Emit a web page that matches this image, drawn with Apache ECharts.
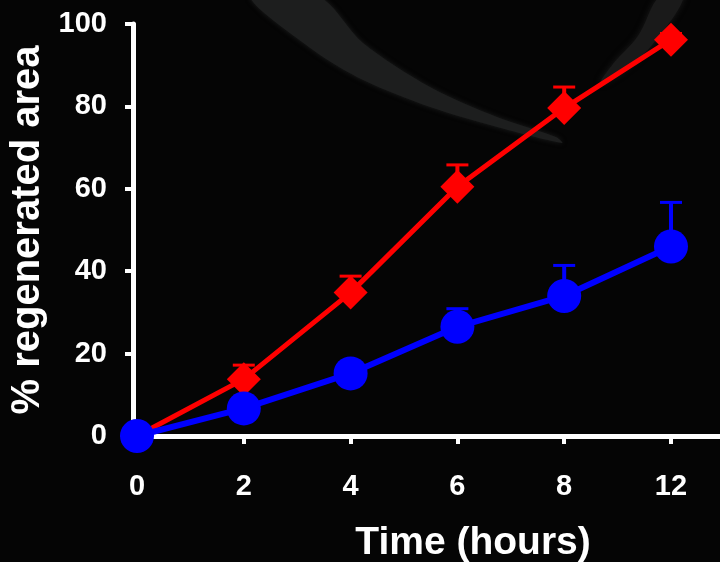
<!DOCTYPE html>
<html>
<head>
<meta charset="utf-8">
<script src="https://cdn.jsdelivr.net/npm/echarts@6/dist/echarts.min.js"></script>
<style>
  html, body { margin: 0; padding: 0; background: #050505; }
  #chart { width: 720px; height: 562px; }
</style>
</head>
<body>
<div id="chart"></div>
<script>
// time points (hours), drawn evenly spaced like the original
var hours = ['0', '2', '4', '6', '8', '12'];
var yTicks = [0, 20, 40, 60, 80, 100];

// red diamonds
var redMean = [0, 13.8, 34.8, 60.5, 79.6, 96.2];
var redErr = [0, 3.4, 4.0, 5.3, 5.1, 1.5];

// blue circles
var blueMean = [0, 6.7, 15.2, 26.5, 34.0, 46.0];
var blueErr = [0, 1.5, 2.0, 4.4, 7.4, 10.7];

var FONT = "'Liberation Sans', Arial, sans-serif";

function pairs(arr) {
    return arr.map(function (v, i) { return [i, v]; });
}
function errData(mean, err) {
    return mean.map(function (v, i) { return [i, v, err[i]]; });
}

// error bar (upper only) with a cap
function errorBar(color) {
    return function (params, api) {
        var i = api.value(0);
        var m = api.value(1);
        var e = api.value(2);
        if (!e) return;
        var p0 = api.coord([i, m]);
        var p1 = api.coord([i, m + e]);
        var half = 11;
        return {
            type: 'group',
            children: [
                {
                    type: 'line',
                    shape: { x1: p0[0], y1: p0[1], x2: p1[0], y2: p1[1] },
                    style: { stroke: color, lineWidth: 4 }
                },
                {
                    type: 'line',
                    shape: { x1: p1[0] - half, y1: p1[1], x2: p1[0] + half, y2: p1[1] },
                    style: { stroke: color, lineWidth: 3 }
                }
            ]
        };
    };
}

var chart = echarts.init(document.getElementById('chart'));

var option = {
    backgroundColor: '#050505',
    animation: false,
    // faint grey swooshes of the photo background
    graphic: [
        {
            type: 'polygon',
            z: -10,
            shape: {
                smooth: 0.3,
                points: [[250, -4], [318, -4], [363, 43], [430, 87], [497, 117], [556, 137], [562, 143],
                         [497, 127], [430, 107], [363, 80], [313, 50]]
            },
            style: { fill: '#1d1e1e', shadowBlur: 5, shadowColor: '#1d1e1e' }
        },
        {
            type: 'polygon',
            z: -10,
            shape: {
                smooth: 0.35,
                points: [[660, -4], [684, -4], [652, 45], [622, 72], [600, 84], [613, 64], [638, 36]]
            },
            style: { fill: '#1a1a1a', shadowBlur: 6, shadowColor: '#1a1a1a' }
        }
    ],
    grid: {
        left: 133,
        right: 0,
        top: 24,
        bottom: 126,
        containLabel: false,
        outerBoundsMode: 'none'
    },
    xAxis: {
        type: 'value',
        min: -0.0375,
        max: 5.459,
        name: 'Time (hours)',
        nameLocation: 'middle',
        nameGap: 88,
        nameTextStyle: {
            color: '#ffffff',
            fontFamily: FONT,
            fontWeight: 'bold',
            fontSize: 39,
            padding: [0, 0, 0, 93]
        },
        axisLine: { show: true, lineStyle: { color: '#ffffff', width: 5 } },
        axisTick: {
            show: true,
            customValues: [0, 1, 2, 3, 4, 5],
            length: 8,
            lineStyle: { color: '#ffffff', width: 4 }
        },
        axisLabel: {
            customValues: [0, 1, 2, 3, 4, 5],
            formatter: function (v) { return hours[Math.round(v)]; },
            color: '#ffffff',
            fontFamily: FONT,
            fontWeight: 'bold',
            fontSize: 29,
            margin: 36
        },
        splitLine: { show: false }
    },
    yAxis: {
        type: 'value',
        min: 0,
        max: 100,
        interval: 20,
        name: '% regenerated area',
        nameLocation: 'middle',
        nameGap: 75,
        nameTextStyle: {
            color: '#ffffff',
            fontFamily: FONT,
            fontWeight: 'bold',
            fontSize: 40
        },
        axisLine: { show: true, onZero: false, lineStyle: { color: '#ffffff', width: 5 } },
        axisTick: {
            show: true,
            length: 8,
            lineStyle: { color: '#ffffff', width: 4 }
        },
        axisLabel: {
            color: '#ffffff',
            fontFamily: FONT,
            fontWeight: 'bold',
            fontSize: 29,
            margin: 26
        },
        splitLine: { show: false }
    },
    series: [
        {
            type: 'custom',
            z: 1,
            renderItem: errorBar('#ff0000'),
            data: errData(redMean, redErr)
        },
        {
            type: 'custom',
            z: 1,
            renderItem: errorBar('#0000ff'),
            data: errData(blueMean, blueErr)
        },
        {
            name: 'red',
            type: 'line',
            z: 2,
            data: pairs(redMean),
            symbol: 'diamond',
            symbolSize: 34,
            lineStyle: { color: '#ff0000', width: 5 },
            itemStyle: { color: '#ff0000' }
        },
        {
            name: 'blue',
            type: 'line',
            z: 3,
            data: pairs(blueMean),
            symbol: 'circle',
            symbolSize: 34,
            lineStyle: { color: '#0000ff', width: 6 },
            itemStyle: { color: '#0000ff' }
        }
    ]
};

chart.setOption(option);
</script>
</body>
</html>
